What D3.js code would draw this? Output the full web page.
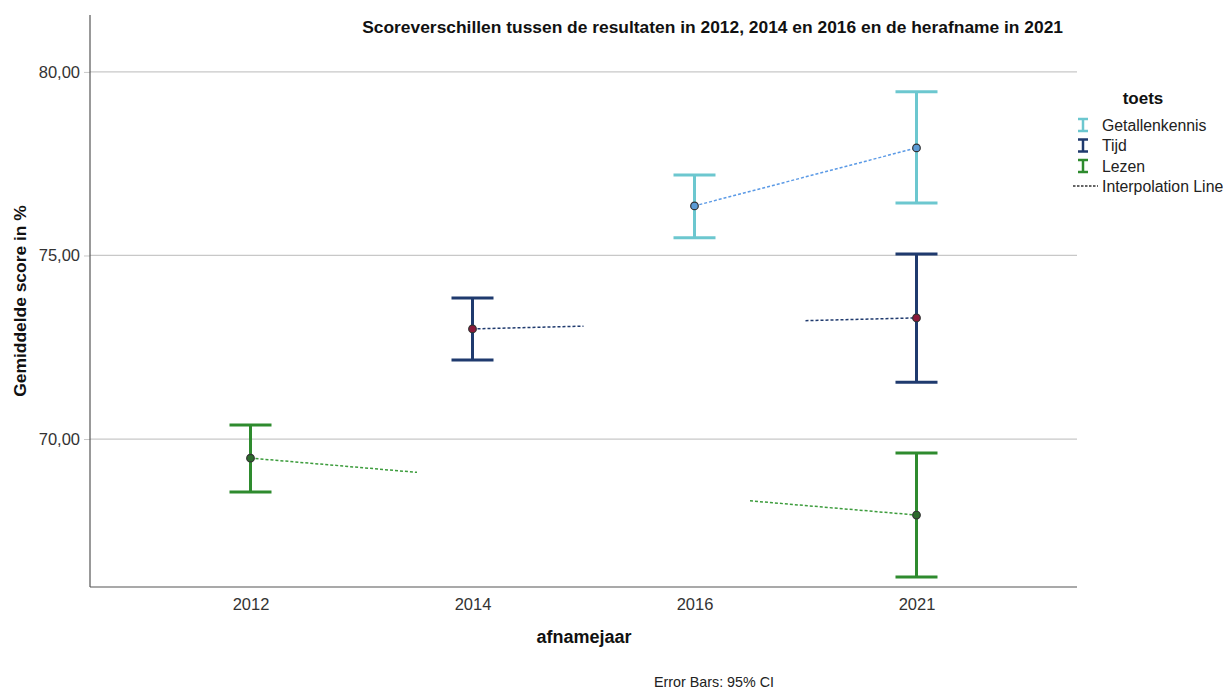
<!DOCTYPE html>
<html><head><meta charset="utf-8">
<script src="https://cdn.jsdelivr.net/npm/d3@7"></script>
<style>body{margin:0;background:#fff}svg{display:block;font-family:"Liberation Sans",Arial,sans-serif}</style>
</head><body><svg id="c" width="1223" height="689"></svg>
<script>
const years = ["2012","2014","2016","2021"];
const yTicks = [70, 75, 80];
const seriesNames = ["Getallenkennis","Tijd","Lezen"];
// [year, mean, lower CI, upper CI]
const getallenkennis = [["2016",76.35,75.48,77.19],["2021",77.93,76.43,79.46]];
const tijd = [["2014",73.00,72.15,73.84],["2021",73.30,71.55,75.04]];
const lezen = [["2012",69.48,68.56,70.38],["2021",67.93,66.24,69.62]];

const styles = {
  Getallenkennis:{bar:"#6cc7cf", line:"#5b9ae6", fill:"#5b9bd5", dash:"3,2"},
  Tijd:{bar:"#1f3a6e", line:"#1f3a6e", fill:"#8b1a3a", dash:"3,2"},
  Lezen:{bar:"#2e8b2e", line:"#3c9c3c", fill:"#2d6b2d", dash:"3,2"}
};
const data = {Getallenkennis:getallenkennis, Tijd:tijd, Lezen:lezen};

const svg = d3.select("#c");
const L=90, R=1077, T=15, B=587;
const x = d3.scalePoint().domain(years).range([L,R]).padding(0.723);
const y = d3.scaleLinear().domain([65.97,81.55]).range([B,T]);

// gridlines
svg.append("g").selectAll("line").data(yTicks).join("line")
  .attr("x1",L).attr("x2",R).attr("y1",d=>y(d)).attr("y2",d=>y(d))
  .attr("stroke","#c8c8c8").attr("stroke-width",1.3);

// axes
const ya = svg.append("g").attr("transform",`translate(${L},0)`)
  .call(d3.axisLeft(y).tickValues(yTicks).tickSize(6).tickPadding(4).tickFormat(d=>d.toFixed(2).replace(".",",")));
ya.select(".domain").remove();
ya.selectAll("line").attr("stroke","#c8c8c8");
ya.selectAll("text").attr("font-size",16.5).attr("fill","#333").attr("font-family","Liberation Sans, Arial");
svg.append("line").attr("x1",L).attr("x2",L).attr("y1",T).attr("y2",B).attr("stroke","#555").attr("stroke-width",1.2);
const xa = svg.append("g").attr("transform",`translate(0,${B})`)
  .call(d3.axisBottom(x).tickSize(0).tickPadding(11));
xa.select(".domain").attr("stroke","#555").attr("stroke-width",1.2).attr("d",`M${L},0H${R}`);
xa.selectAll("text").attr("font-size",16.5).attr("fill","#333").attr("font-family","Liberation Sans, Arial");

// interpolation lines
seriesNames.forEach(s=>{
  const d = data[s], st = styles[s];
  for(let i=0;i<d.length-1;i++){
    const a=d[i], b=d[i+1];
    const x0=x(a[0]), y0=y(a[1]), x1=x(b[0]), y1=y(b[1]);
    const adjacent = years.indexOf(b[0])-years.indexOf(a[0])===1;
    const segs = adjacent ? [[0,1]] : [[0,0.25],[0.75,1]];
    segs.forEach(([f0,f1])=>{
      svg.append("line")
        .attr("x1",x0+(x1-x0)*f0).attr("y1",y0+(y1-y0)*f0)
        .attr("x2",x0+(x1-x0)*f1).attr("y2",y0+(y1-y0)*f1)
        .attr("stroke",st.line).attr("stroke-width",1.5).attr("stroke-dasharray",st.dash);
    });
  }
});

// error bars
const cap=21;
seriesNames.forEach(s=>{
  const st=styles[s];
  const g=svg.append("g").attr("stroke",st.bar).attr("stroke-width",3);
  data[s].forEach(d=>{
    const cx=x(d[0]);
    g.append("line").attr("x1",cx).attr("x2",cx).attr("y1",y(d[2])).attr("y2",y(d[3]));
    g.append("line").attr("x1",cx-cap).attr("x2",cx+cap).attr("y1",y(d[2])).attr("y2",y(d[2]));
    g.append("line").attr("x1",cx-cap).attr("x2",cx+cap).attr("y1",y(d[3])).attr("y2",y(d[3]));
  });
  svg.append("g").selectAll("circle").data(data[s]).join("circle")
    .attr("cx",d=>x(d[0])).attr("cy",d=>y(d[1])).attr("r",3.8)
    .attr("fill",st.fill).attr("stroke","#333").attr("stroke-width",1.2);
});

// texts
svg.append("text").attr("x",1063).attr("y",33).attr("text-anchor","end")
  .attr("font-size",17.4).attr("font-weight","bold").attr("fill","#111")
  .text("Scoreverschillen tussen de resultaten in 2012, 2014 en 2016 en de herafname in 2021");
svg.append("text").attr("transform","translate(26,301) rotate(-90)").attr("text-anchor","middle")
  .attr("font-size",17.4).attr("font-weight","bold").attr("fill","#111").text("Gemiddelde score in %");
svg.append("text").attr("x",584).attr("y",643).attr("text-anchor","middle")
  .attr("font-size",18).attr("font-weight","bold").attr("fill","#111").text("afnamejaar");
svg.append("text").attr("x",714).attr("y",687).attr("text-anchor","middle")
  .attr("font-size",14.3).attr("fill","#222").text("Error Bars: 95% CI");

// legend
const lg=svg.append("g");
lg.append("text").attr("x",1143).attr("y",104).attr("text-anchor","middle")
  .attr("font-size",17).attr("font-weight","bold").attr("fill","#111").text("toets");
seriesNames.forEach((s,i)=>{
  const yy=125+i*20.5, st=styles[s];
  const g=lg.append("g").attr("stroke",st.bar).attr("stroke-width",2.5);
  g.append("line").attr("x1",1083).attr("x2",1083).attr("y1",yy-6).attr("y2",yy+6);
  g.append("line").attr("x1",1078).attr("x2",1088).attr("y1",yy-6).attr("y2",yy-6);
  g.append("line").attr("x1",1078).attr("x2",1088).attr("y1",yy+6).attr("y2",yy+6);
  lg.append("text").attr("x",1102).attr("y",yy+5.5).attr("font-size",15.8).attr("fill","#222").text(s);
});
lg.append("line").attr("x1",1073).attr("x2",1098).attr("y1",186).attr("y2",186)
  .attr("stroke","#333").attr("stroke-width",1.3).attr("stroke-dasharray","2.5,1.5");
lg.append("text").attr("x",1102).attr("y",192).attr("font-size",15.8).attr("fill","#222").text("Interpolation Line");
</script></body></html>
